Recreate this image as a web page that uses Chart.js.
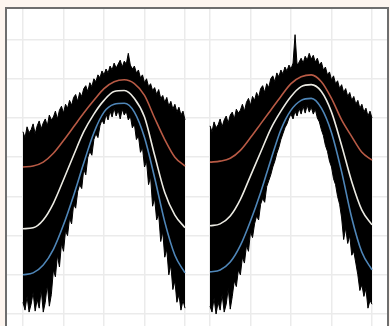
<!DOCTYPE html>
<html>
<head>
<meta charset="utf-8">
<script src="https://cdn.jsdelivr.net/npm/chart.js@4.4.0/dist/chart.umd.min.js"></script>
<style>
  html, body { margin: 0; padding: 0; background: #fdf5ef; overflow: hidden; }
  #frame { position: absolute; left: 5px; top: 7px; width: 380px; height: 330px; border: 2px solid #6e6e6e; background: #fff; overflow: hidden; }
  canvas { position: absolute; top: 0; }
  #left { left: 0; }
  #right { left: 190px; }
</style>
</head>
<body>
<div id="frame">
  <canvas id="left" width="190" height="317"></canvas>
  <canvas id="right" width="190" height="317"></canvas>
</div>
<script>
// positions along each panel (panel units, 0..4)
const traceX = [0, 0.05, 0.1, 0.15, 0.2, 0.25, 0.3, 0.35, 0.4, 0.45, 0.5, 0.55, 0.6, 0.65, 0.7, 0.75, 0.8, 0.85, 0.9, 0.95,
                1, 1.05, 1.1, 1.15, 1.2, 1.25, 1.3, 1.35, 1.4, 1.45, 1.5, 1.55, 1.6, 1.65, 1.7, 1.75, 1.8, 1.85, 1.9, 1.95,
                2, 2.05, 2.1, 2.15, 2.2, 2.25, 2.3, 2.35, 2.4, 2.45, 2.5, 2.55, 2.6, 2.65, 2.7, 2.75, 2.8, 2.85, 2.9, 2.95,
                3, 3.05, 3.1, 3.15, 3.2, 3.25, 3.3, 3.35, 3.4, 3.45, 3.5, 3.55, 3.6, 3.65, 3.7, 3.75, 3.8, 3.85, 3.9, 3.95, 4];
const curveX = [0, 0.25, 0.5, 0.75, 1, 1.25, 1.5, 1.75, 2, 2.25, 2.5, 2.75, 3, 3.25, 3.5, 3.75, 4];

// grid ticks
const xTicks = [0, 1, 2, 3, 4];
const yTicks = [0, 40, 80, 120, 160, 200, 240, 280];

// left panel: upper / lower edge of the noisy trace
const leftTop = [186, 180, 191, 185, 188, 194, 184, 192, 197, 189, 195, 199, 192, 203, 198, 201, 207, 199, 208, 212,
                 205, 214, 210, 218, 213, 221, 224, 217, 226, 222, 230, 233, 227, 236, 232, 240, 237, 244, 241, 248,
                 244, 250, 246, 253, 249, 256, 251, 255, 259, 252, 258, 255, 266, 254, 250, 253, 246, 249, 241, 244,
                 236, 240, 232, 235, 228, 231, 224, 229, 220, 223, 216, 221, 212, 217, 209, 214, 206, 211, 203, 207, 198];
const leftBottom = [12, 4, 18, 2, 10, 22, 3, 15, 6, 25, 2, 12, 30, 8, 20, 45, 38, 60, 48, 72,
                    64, 85, 80, 98, 92, 112, 108, 125, 132, 128, 148, 142, 160, 166, 162, 178, 184, 180, 192, 198,
                    194, 204, 198, 207, 201, 210, 202, 208, 199, 209, 203, 207, 198, 202, 190, 194, 178, 182, 165, 170,
                    150, 156, 132, 140, 110, 118, 96, 102, 74, 84, 58, 66, 40, 50, 25, 34, 12, 20, 4, 14, 6];
// left panel smooth curves
const leftRed = [150, 151, 155, 164, 177, 191, 205, 218, 230, 237, 239, 235, 223, 200, 178, 160, 151];
const leftWhite = [87, 88, 96, 113, 137, 162, 186, 204, 218, 227, 228, 220, 201, 162, 124, 101, 88];
const leftBlue = [40, 42, 50, 66, 91, 121, 154, 185, 206, 214, 215, 206, 180, 139, 94, 60, 42];

// right panel
const rightTop = [192, 186, 196, 190, 193, 199, 191, 198, 202, 195, 203, 206, 199, 209, 205, 208, 214, 207, 216, 220,
                  213, 222, 218, 226, 221, 230, 233, 226, 235, 231, 240, 243, 237, 246, 242, 249, 245, 252, 248, 254,
                  250, 256, 285, 254, 257, 261, 256, 263, 259, 266, 260, 264, 257, 261, 254, 257, 249, 252, 244, 247,
                  239, 243, 235, 238, 230, 234, 226, 230, 222, 226, 218, 222, 214, 218, 210, 214, 206, 210, 202, 207, 200];
const rightBottom = [8, 2, 16, 0, 12, 4, 20, 2, 10, 26, 5, 18, 34, 28, 45, 40, 58, 52, 70, 64,
                     84, 78, 92, 100, 96, 112, 118, 114, 130, 136, 142, 150, 156, 164, 170, 178, 184, 190, 194, 200,
                     204, 199, 207, 202, 210, 204, 212, 205, 213, 206, 211, 204, 209, 200, 196, 188, 182, 172, 166, 156,
                     150, 138, 132, 120, 112, 98, 76, 88, 72, 80, 60, 64, 52, 40, 24, 30, 18, 26, 6, 14, 10];
const rightRed = [155, 156, 159, 167, 180, 194, 208, 222, 235, 242, 244, 237, 220, 198, 181, 165, 157];
const rightWhite = [90, 92, 100, 117, 141, 165, 189, 207, 222, 232, 234, 227, 206, 172, 135, 106, 91];
const rightBlue = [43, 45, 53, 70, 95, 124, 157, 188, 208, 218, 220, 210, 185, 145, 98, 63, 45];

const gridColor = "#ebebeb";

function toPoints(xs, ys) {
    return ys.map((y, i) => ({ x: xs[i], y: y }));
}

function curve(xs, ys, color) {
    return {
        data: toPoints(xs, ys),
        borderColor: color,
        borderWidth: 1.6,
        pointRadius: 0,
        cubicInterpolationMode: 'monotone',
        fill: false,
        order: 0
    };
}

function drawPanel(id, top, bottom, red, white, blue, xMin, xMax) {
    const ctx = document.getElementById(id).getContext("2d");
    return new Chart(ctx, {
        type: 'line',
        data: {
            datasets: [
                { data: toPoints(traceX, top), borderColor: "#000", borderWidth: 1, pointRadius: 0, fill: false, order: 1 },
                { data: toPoints(traceX, bottom), borderColor: "#000", borderWidth: 1, pointRadius: 0, fill: '-1', backgroundColor: "#000", order: 1 },
                curve(curveX, red, "#b85a45"),
                curve(curveX, white, "#ecebe3"),
                curve(curveX, blue, "#4f86b8")
            ]
        },
        options: {
            responsive: false,
            animation: false,
            layout: { padding: 0, autoPadding: false },
            plugins: { legend: { display: false }, tooltip: { enabled: false } },
            scales: {
                x: {
                    type: 'linear',
                    min: xMin,
                    max: xMax,
                    afterBuildTicks: s => { s.ticks = xTicks.map(v => ({ value: v })); },
                    ticks: { display: false },
                    grid: { color: gridColor, lineWidth: 1.5, drawTicks: false },
                    border: { display: false }
                },
                y: {
                    min: -12.2,
                    max: 311.2,
                    afterBuildTicks: s => { s.ticks = yTicks.map(v => ({ value: v })); },
                    ticks: { display: false },
                    grid: { color: gridColor, lineWidth: 1.5, drawTicks: false },
                    border: { display: false }
                }
            }
        }
    });
}

drawPanel("left", leftTop, leftBottom, leftRed, leftWhite, leftBlue, -0.395, 4.296);
drawPanel("right", rightTop, rightBottom, rightRed, rightWhite, rightBlue, -0.321, 4.370);
</script>
</body>
</html>
